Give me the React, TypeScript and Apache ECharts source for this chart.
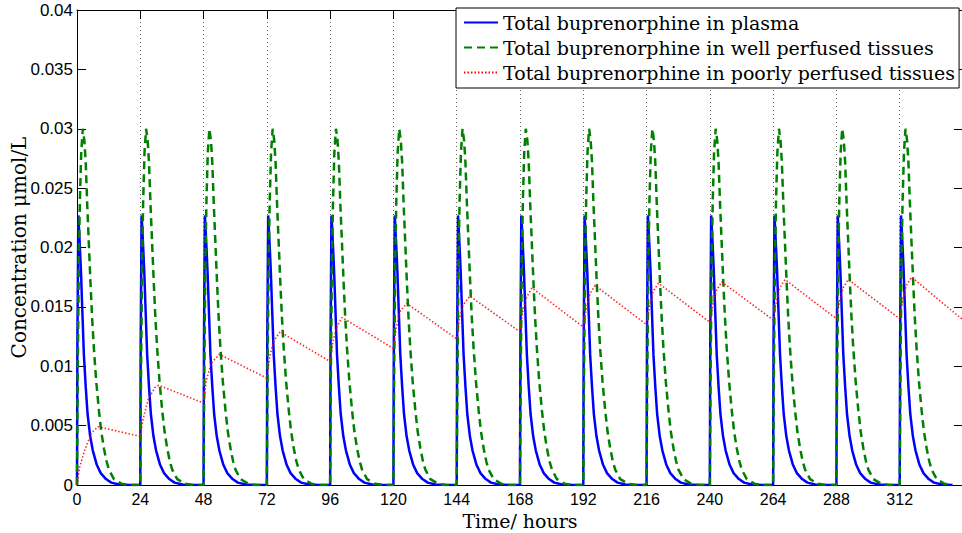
import React, { useEffect, useRef } from "react";
import * as echarts from "echarts";

// Dose times (hours)
const doseTimes = [0, 24, 48, 72, 96, 120, 144, 168, 192, 216, 240, 264, 288, 312];

// One dosing cycle of the plasma curve (hours after dose, µmol/L)
const plasmaOffsets = [0, 0.15, 0.5, 1.0, 1.5, 2.0, 2.6, 3.3, 4.0, 5.0, 6.0, 7.5, 9.0, 11.0, 13.0, 16.0, 20.0];
const plasmaValues = [0, 0.012, 0.0227, 0.0205, 0.018, 0.0148, 0.011, 0.0083, 0.006, 0.0041, 0.0029, 0.0017, 0.001, 0.0005, 0.0002, 0.00005, 0];

// One dosing cycle of the well perfused tissue curve
const wellOffsets = [0, 0.3, 0.7, 1.1, 1.6, 2.2, 2.8, 3.3, 3.9, 4.5, 5.1, 5.7, 6.4, 7.3, 8.3, 9.2, 10.2, 11.2, 12.1, 14.0, 17.0, 20.0];
const wellValues = [0, 0.01, 0.019, 0.024, 0.028, 0.03, 0.029, 0.0272, 0.0235, 0.0203, 0.0171, 0.0142, 0.0115, 0.0087, 0.0063, 0.0045, 0.0031, 0.002, 0.0013, 0.0005, 0.0001, 0];

// Poorly perfused tissue curve (hours, µmol/L)
const poorlyTimes = [
  0, 1, 3, 5.5, 8, 24,
  25, 27, 29.5, 31, 48,
  49, 51, 54, 72,
  73, 74.5, 77, 96,
  97, 98.5, 100.5, 120,
  121, 122.5, 125, 144,
  145, 146.5, 149, 168,
  169, 170.5, 172.5, 192,
  193, 194.5, 196.5, 216,
  217, 218.5, 220.5, 240,
  241, 242.5, 244.5, 264,
  265, 266.5, 268.5, 288,
  289, 290.5, 292.5, 312,
  313, 314.5, 316.5, 336,
];
const poorlyValues = [
  0, 0.0015, 0.003, 0.0044, 0.0049, 0.0041,
  0.0055, 0.0072, 0.0082, 0.0084, 0.0069,
  0.0088, 0.0103, 0.011, 0.009,
  0.0107, 0.0121, 0.0129, 0.0104,
  0.012, 0.0133, 0.0141, 0.0115,
  0.0132, 0.0146, 0.0153, 0.0123,
  0.014, 0.0152, 0.0159, 0.0129,
  0.0146, 0.0158, 0.0166, 0.0133,
  0.0147, 0.0161, 0.0168, 0.0135,
  0.0149, 0.0163, 0.017, 0.0137,
  0.0151, 0.0164, 0.0171, 0.0139,
  0.0152, 0.0166, 0.0173, 0.014,
  0.0153, 0.0166, 0.0173, 0.014,
  0.0154, 0.0168, 0.0175, 0.0139,
];

const seriesNames = [
  "Total buprenorphine in plasma",
  "Total buprenorphine in well perfused tissues",
  "Total buprenorphine in poorly perfused tissues",
];

const xTickLabels = ["0", "24", "48", "72", "96", "120", "144", "168", "192", "216", "240", "264", "288", "312"];
const yTickLabels = ["0", "0.005", "0.01", "0.015", "0.02", "0.025", "0.03", "0.035", "0.04"];

const SANS = "Liberation Sans, Helvetica, Arial, sans-serif";
const SERIF = "DejaVu Serif, serif";

export default function App() {
  const ref = useRef<HTMLDivElement>(null);

  useEffect(() => {
    if (!ref.current) return;
    const chart = echarts.init(ref.current, null, { renderer: "svg" });

    const plasma = doseTimes.flatMap((d) => plasmaOffsets.map((o, i) => [d + o, plasmaValues[i]]));
    const well = doseTimes.flatMap((d) => wellOffsets.map((o, i) => [d + o, wellValues[i]]));
    const poorly = poorlyTimes.map((t, i) => [t, poorlyValues[i]]);

    const xLabel = (v: number) => {
      const idx = Math.round(v / 24);
      return xTickLabels[idx] ?? "";
    };
    const yLabel = (v: number) => {
      const idx = Math.round(v / 0.005);
      return yTickLabels[idx] ?? "";
    };

    const baseX = {
      type: "value" as const,
      min: 0,
      max: 336,
      interval: 24,
    };
    const baseY = {
      type: "value" as const,
      min: 0,
      max: 0.04,
      interval: 0.005,
    };

    chart.setOption({
      animation: false,
      backgroundColor: "#ffffff",
      grid: { left: 77, right: -1, top: 10, bottom: 48, containLabel: false, outerBoundsMode: "none" },
      legend: {
        data: seriesNames,
        orient: "vertical",
        left: 456,
        top: 8,
        padding: [5, 4, 6, 7],
        itemWidth: 34,
        itemHeight: 14,
        itemGap: 6,
        backgroundColor: "#ffffff",
        borderColor: "#000000",
        borderWidth: 1,
        borderRadius: 0,
        itemStyle: { opacity: 0, borderWidth: 0 },
        lineStyle: { opacity: 1 },
        textStyle: { fontFamily: SERIF, fontSize: 19, color: "#000000" },
      },
      xAxis: [
        {
          ...baseX,
          position: "bottom",
          name: "Time/ hours",
          nameLocation: "middle",
          nameGap: 26,
          nameMoveOverlap: false,
          nameTextStyle: { fontFamily: SERIF, fontSize: 19, color: "#000000" },
          axisLine: { show: true, onZero: false, lineStyle: { color: "#000000", width: 1 } },
          axisTick: { show: true, inside: true, length: 9, lineStyle: { color: "#000000" } },
          axisLabel: {
            show: true,
            formatter: xLabel,
            fontFamily: SANS,
            fontSize: 16,
            color: "#000000",
            margin: 6,
          },
          splitLine: { show: true, lineStyle: { type: [1, 3], color: "#666666", width: 1 } },
        },
        {
          ...baseX,
          position: "top",
          axisLine: { show: true, onZero: false, lineStyle: { color: "#000000", width: 1 } },
          axisTick: { show: true, inside: true, length: 9, lineStyle: { color: "#000000" } },
          axisLabel: { show: false },
          splitLine: { show: false },
        },
      ],
      yAxis: [
        {
          ...baseY,
          position: "left",
          name: "Concentration μmol/L",
          nameLocation: "middle",
          nameGap: 48,
          nameMoveOverlap: false,
          nameTextStyle: { fontFamily: SERIF, fontSize: 20, color: "#000000" },
          axisLine: { show: true, onZero: false, lineStyle: { color: "#000000", width: 1 } },
          axisTick: { show: true, inside: true, length: 9, lineStyle: { color: "#000000" } },
          axisLabel: {
            show: true,
            formatter: yLabel,
            fontFamily: SANS,
            fontSize: 17,
            color: "#000000",
            margin: 4,
          },
          splitLine: { show: false },
        },
        {
          ...baseY,
          position: "right",
          axisLine: { show: true, onZero: false, lineStyle: { color: "#000000", width: 1 } },
          axisTick: { show: true, inside: true, length: 9, lineStyle: { color: "#000000" } },
          axisLabel: { show: false },
          splitLine: { show: false },
        },
      ],
      series: [
        {
          name: seriesNames[0],
          type: "line",
          data: plasma,
          showSymbol: false,
          symbol: "none",
          lineStyle: { color: "#0000ff", width: 2.5, type: "solid" },
          itemStyle: { color: "#0000ff" },
        },
        {
          name: seriesNames[1],
          type: "line",
          data: well,
          showSymbol: false,
          symbol: "none",
          lineStyle: { color: "#008000", width: 2.5, type: [8, 5] },
          itemStyle: { color: "#008000" },
        },
        {
          name: seriesNames[2],
          type: "line",
          data: poorly,
          showSymbol: false,
          symbol: "none",
          lineStyle: { color: "#ff0000", width: 1.6, type: [1.5, 2], opacity: 0.85 },
          itemStyle: { color: "#ff0000" },
        },
      ],
    });

    return () => chart.dispose();
  }, []);

  return (
    <div
      style={{ position: "fixed", left: 0, top: 0, width: 962, height: 533, overflow: "hidden", background: "#fff" }}
    >
      <div ref={ref} style={{ width: 962, height: 533 }} />
    </div>
  );
}
